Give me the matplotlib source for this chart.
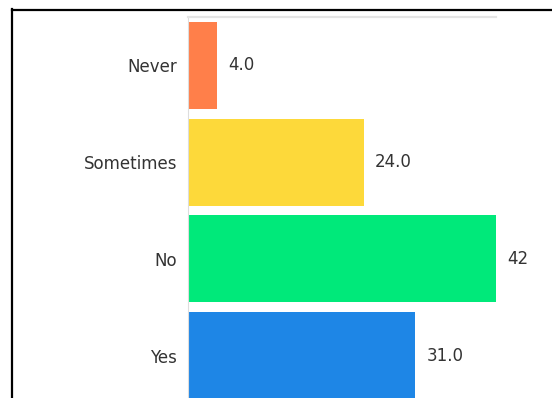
import matplotlib.pyplot as plt
from matplotlib.lines import Line2D
from matplotlib.patches import Rectangle

categories = ["Never", "Sometimes", "No", "Yes"]
values = [4.0, 24.0, 42.0, 31.0]
colors = ["#FF7F4A", "#FDD93A", "#00E97A", "#1E86E6"]

plt.rcParams['font.family'] = ['DejaVu Sans']

W, H = 552, 398
fig = plt.figure(figsize=(W / 100, H / 100), dpi=100)
fig.patch.set_facecolor('white')

# axes placed in pixel terms (bottom runs past the image, like the cropped screenshot)
left, right, top, bottom = 188, 496, 17, 404
ax = fig.add_axes([left / W, 1 - bottom / H, (right - left) / W, (bottom - top) / H])

y = list(range(len(categories)))
bars = ax.barh(y, values, height=0.9, color=colors)
ax.set_yticks(y)
ax.set_yticklabels(categories, fontsize=12, color='#333333')
ax.set_ylim(3.5, -0.5)
ax.set_xlim(0, max(values))
ax.set_xticks([])
ax.tick_params(axis='y', length=0, pad=8)

for s in ['right', 'bottom']:
    ax.spines[s].set_visible(False)
ax.spines['top'].set_color('#e4e4e4')
ax.spines['top'].set_linewidth(1.6)
ax.spines['left'].set_color('#dddddd')
ax.spines['left'].set_linewidth(0.8)

labels = ax.bar_label(bars, fmt='%.1f', padding=8, fontsize=12, color='#333333')

# the long bar's label is cut off at the edge of the original chart area
clip = Rectangle((0, 0), 528 / W, 1, transform=fig.transFigure, visible=False)
fig.add_artist(clip)
for t in labels:
    t.set_clip_path(clip)
    t.set_clip_on(True)

# black frame of the screenshot (left and top edges only)
fig.add_artist(Line2D([11.5 / W, 11.5 / W], [0, 1 - 9 / H], transform=fig.transFigure,
                      color='black', lw=1.6, solid_capstyle='projecting'))
fig.add_artist(Line2D([11.5 / W, 1], [1 - 9.5 / H, 1 - 9.5 / H], transform=fig.transFigure,
                      color='black', lw=1.6, solid_capstyle='projecting'))

fig.savefig('out.png', dpi=100)
